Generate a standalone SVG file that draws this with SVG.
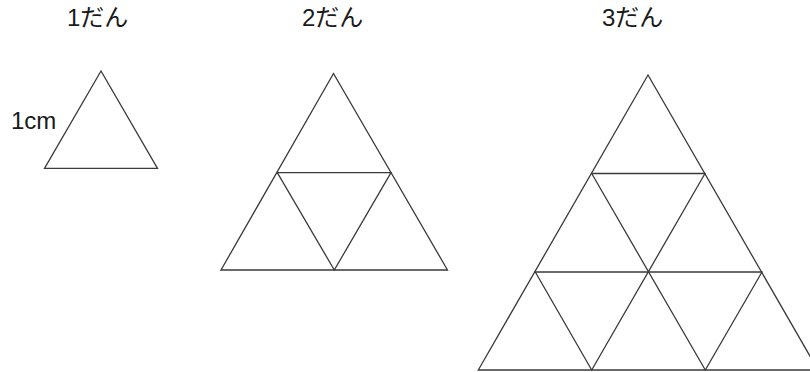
<svg xmlns="http://www.w3.org/2000/svg" width="810" height="372" viewBox="0 0 810 372">
<style>
.t{font-family:"Liberation Sans","Noto Sans CJK JP",sans-serif;font-size:24px;fill:#1a1a1a}
.e{fill:none;stroke:#3a3a3a;stroke-width:1.3;stroke-linejoin:miter;stroke-linecap:round}
</style>
<rect width="810" height="372" fill="#fff"/>
<g id="label1"><text class="t" x="67" y="26">1だん</text></g>
<g id="label2"><text class="t" x="302" y="26">2だん</text></g>
<g id="label3"><text class="t" x="602" y="26">3だん</text></g>
<g id="len"><text class="t" x="11" y="129">1cm</text></g>
<g id="tri1">
<path class="e" d="M101,71 L44.5,168.3 L157.5,168.3 Z"/>
</g>
<g id="tri2">
<path class="e" d="M333.5,73.5 L221,270 L447.5,270 Z"/>
<path class="e" d="M277.3,172.7 L391,172.7 L334.3,270 Z"/>
</g>
<g id="tri3">
<path class="e" d="M648,75 L478.3,370 L818,370 Z"/>
<path class="e" d="M591.7,173.5 L705,173.5"/>
<path class="e" d="M535.3,272 L762,272"/>
<path class="e" d="M591.7,173.5 L705.3,370"/>
<path class="e" d="M705,173.5 L591.7,370"/>
<path class="e" d="M535.3,272 L591.7,370"/>
<path class="e" d="M762,272 L705.3,370"/>
</g>
</svg>
